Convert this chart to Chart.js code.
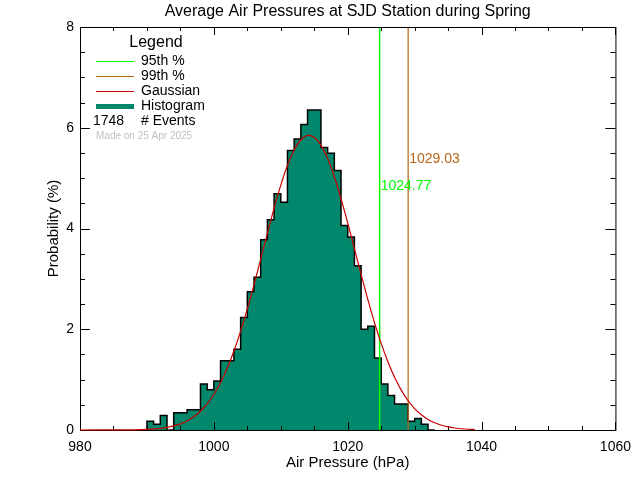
<!DOCTYPE html>
<html>
<head>
<meta charset="utf-8">
<script src="https://cdn.jsdelivr.net/npm/chart.js@4/dist/chart.umd.min.js"></script>
<style>
    body { margin: 0; background: #fff; }
    #wrap { width: 640px; height: 480px; }
</style>
</head>
<body>
<div id="wrap"><canvas id="pressureChart" width="640" height="480"></canvas></div>
<script>
// Histogram bins (left edge, hPa) and probability (%) per 1 hPa bin
const pressureBins = [
    990, 991, 992, 993, 994, 995, 996, 997, 998, 999,
    1000, 1001, 1002, 1003, 1004, 1005, 1006, 1007, 1008, 1009,
    1010, 1011, 1012, 1013, 1014, 1015, 1016, 1017, 1018, 1019,
    1020, 1021, 1022, 1023, 1024, 1025, 1026, 1027, 1028, 1029,
    1030, 1031, 1032
];
const probability = [
    0.057, 0.172, 0.114, 0.286, 0.000, 0.343, 0.343, 0.400, 0.400, 0.915,
    0.801, 0.973, 1.373, 1.373, 1.602, 2.231, 2.746, 3.032, 3.776, 4.176,
    4.691, 4.519, 5.549, 5.778, 6.064, 6.350, 6.350, 5.606, 5.492, 5.149,
    4.062, 3.833, 3.261, 2.002, 2.059, 1.430, 0.915, 0.686, 0.515, 0.515,
    0.172, 0.229, 0.114
];
const binWidth = 1;

// Gaussian curve
const gaussPressure = [
    980, 986, 988, 989, 990, 991, 992, 993, 994, 995, 996, 997, 998, 999,
    1000, 1001, 1002, 1003, 1004, 1005, 1006, 1007, 1008, 1009,
    1010, 1011, 1012, 1013, 1014, 1015, 1016, 1017, 1018, 1019,
    1020, 1021, 1022, 1023, 1024, 1025, 1026, 1027, 1028, 1029,
    1030, 1031, 1032, 1033, 1034, 1035, 1036, 1037, 1038, 1039
];
const gaussProb = [
    0.000, 0.002, 0.004, 0.007, 0.013, 0.021, 0.033, 0.052, 0.081, 0.122, 0.180, 0.262, 0.372, 0.517,
    0.704, 0.938, 1.226, 1.567, 1.962, 2.405, 2.887, 3.394, 3.907, 4.404,
    4.861, 5.254, 5.560, 5.762, 5.848, 5.811, 5.654, 5.388, 5.027, 4.593,
    4.109, 3.600, 3.088, 2.594, 2.133, 1.719, 1.355, 1.047, 0.792, 0.586,
    0.425, 0.302, 0.210, 0.143, 0.095, 0.062, 0.040, 0.025, 0.015, 0.009
];

const p95 = 1024.77;
const p99 = 1029.03;
const eventCount = 1748;

const xTicks = [980, 1000, 1020, 1040, 1060];
const yTicks = [0, 2, 4, 6, 8];

const FONT = '"Liberation Sans", Arial, sans-serif';
const GREEN = '#00ff00';
const BROWN = '#b8651c';
const RED = '#c80000';
const TEAL = '#00876c';

// step outline points built from the bins
const histPoints = [{ x: pressureBins[0], y: 0 }]
    .concat(pressureBins.map((b, i) => ({ x: b, y: probability[i] })))
    .concat([{ x: pressureBins[pressureBins.length - 1] + binWidth, y: 0 }]);

const gaussPoints = gaussPressure.map((p, i) => ({ x: p, y: gaussProb[i] }));
const yTop = yTicks[yTicks.length - 1];

// inward ticks and the box, drawn just before the gaussian (dataset 0)
const framePlugin = {
    id: 'frame',
    beforeDatasetDraw(chart, args) {
        if (args.index !== 0) return;
        const { ctx, chartArea: a, scales: { x, y } } = chart;
        ctx.save();
        ctx.strokeStyle = '#000';
        ctx.lineWidth = 1;
        ctx.strokeRect(a.left + 0.5, a.top + 0.5, a.right - a.left, a.bottom - a.top);
        ctx.beginPath();
        for (let v = x.min; v <= x.max; v += 5) {
            const px = Math.round(x.getPixelForValue(v)) + 0.5;
            const len = v % 20 === 0 ? 8 : 4;
            ctx.moveTo(px, a.bottom); ctx.lineTo(px, a.bottom - len);
            ctx.moveTo(px, a.top); ctx.lineTo(px, a.top + len);
        }
        for (let v = y.min; v <= y.max; v += 0.5) {
            const py = Math.round(y.getPixelForValue(v)) + 0.5;
            const len = v % 2 === 0 ? 10 : 5;
            ctx.moveTo(a.left, py); ctx.lineTo(a.left + len, py);
            ctx.moveTo(a.right, py); ctx.lineTo(a.right - len, py);
        }
        ctx.stroke();
        ctx.restore();
    }
};

// titles, legend box and percentile labels
const textPlugin = {
    id: 'texts',
    afterDraw(chart) {
        const { ctx, chartArea: a, scales: { x, y } } = chart;
        ctx.save();
        ctx.fillStyle = '#000';
        ctx.textBaseline = 'middle';

        ctx.font = '16px ' + FONT;
        ctx.textAlign = 'center';
        ctx.fillText('Average Air Pressures at SJD Station during Spring', (a.left + a.right) / 2, 12);

        ctx.font = '15px ' + FONT;
        ctx.fillText('Air Pressure (hPa)', (a.left + a.right) / 2, 463);
        ctx.save();
        ctx.translate(54, (a.top + a.bottom) / 2);
        ctx.rotate(-Math.PI / 2);
        ctx.fillText('Probability (%)', 0, 0);
        ctx.restore();

        // legend
        ctx.font = '16px ' + FONT;
        ctx.fillText('Legend', 156, 43);
        const items = [
            { label: '95th %', color: GREEN, w: 1, y: 61 },
            { label: '99th %', color: BROWN, w: 1, y: 76 },
            { label: 'Gaussian', color: RED, w: 1, y: 91 },
            { label: 'Histogram', color: TEAL, w: 5, y: 106 }
        ];
        ctx.textAlign = 'left';
        ctx.font = '14px ' + FONT;
        items.forEach(it => {
            ctx.strokeStyle = it.color;
            ctx.lineWidth = it.w;
            ctx.beginPath();
            ctx.moveTo(96, it.y + 0.5);
            ctx.lineTo(134, it.y + 0.5);
            ctx.stroke();
            ctx.fillStyle = '#000';
            ctx.fillText(it.label, 141, it.y);
        });
        ctx.fillText(String(eventCount), 93, 121);
        ctx.fillText('# Events', 141, 121);
        ctx.fillStyle = '#c0c0c0';
        ctx.font = '10px ' + FONT;
        ctx.fillText('Made on 25 Apr 2025', 96, 136);

        // percentile labels
        ctx.font = '14px ' + FONT;
        ctx.fillStyle = GREEN;
        ctx.fillText(p95.toFixed(2), x.getPixelForValue(p95) + 1, y.getPixelForValue(4.85));
        ctx.fillStyle = BROWN;
        ctx.fillText(p99.toFixed(2), x.getPixelForValue(p99) + 1, y.getPixelForValue(5.37));
        ctx.restore();
    }
};

const ctx = document.getElementById('pressureChart').getContext('2d');
new Chart(ctx, {
    type: 'line',
    data: {
        datasets: [
            {
                label: 'Gaussian',
                data: gaussPoints,
                borderColor: RED,
                borderWidth: 1.2,
                pointRadius: 0,
                tension: 0.3,
                fill: false,
                clip: false
            },
            {
                label: '95th %',
                data: [{ x: p95, y: 0 }, { x: p95, y: yTop }],
                borderColor: GREEN,
                borderWidth: 1.5,
                pointRadius: 0,
                fill: false
            },
            {
                label: '99th %',
                data: [{ x: p99, y: 0 }, { x: p99, y: yTop }],
                borderColor: BROWN,
                borderWidth: 1.2,
                pointRadius: 0,
                fill: false
            },
            {
                label: 'Histogram',
                data: histPoints,
                stepped: 'after',
                borderColor: '#000',
                borderWidth: 1.5,
                backgroundColor: TEAL,
                pointRadius: 0,
                fill: 'origin'
            }
        ]
    },
    options: {
        responsive: false,
        animation: false,
        layout: { padding: { top: 27, right: 24, left: 0, bottom: 0 } },
        scales: {
            x: {
                type: 'linear',
                min: xTicks[0],
                max: xTicks[xTicks.length - 1],
                afterBuildTicks: s => { s.ticks = xTicks.map(v => ({ value: v })); },
                afterFit: s => { s.height = 50; },
                grid: { display: false, drawTicks: false },
                border: { display: false },
                ticks: {
                    color: '#000',
                    font: { family: FONT, size: 14 },
                    padding: 9,
                    maxRotation: 0,
                    callback: v => String(v)
                }
            },
            y: {
                min: yTicks[0],
                max: yTop,
                afterBuildTicks: s => { s.ticks = yTicks.map(v => ({ value: v })); },
                afterFit: s => { s.width = 80; },
                grid: { display: false, drawTicks: false },
                border: { display: false },
                ticks: { color: '#000', font: { family: FONT, size: 14 }, padding: 6 }
            }
        },
        plugins: {
            legend: { display: false },
            tooltip: { enabled: false },
            title: { display: false }
        }
    },
    plugins: [framePlugin, textPlugin]
});
</script>
</body>
</html>
